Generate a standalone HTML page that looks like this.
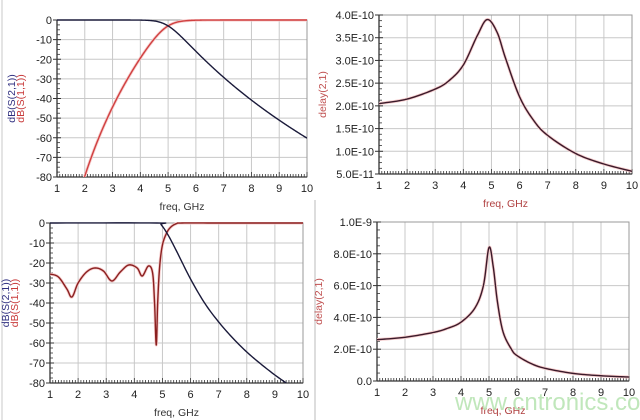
<!DOCTYPE html>
<html><head><meta charset="utf-8"><style>
html,body{margin:0;padding:0;background:#fff;}
svg{display:block;}
text{font-family:"Liberation Sans",Arial,sans-serif;}
</style></head><body>
<svg id="s" width="640" height="420" viewBox="0 0 640 420" xmlns="http://www.w3.org/2000/svg">
<rect width="640" height="420" fill="#fff"/>
<line x1="315" y1="200" x2="315" y2="420" stroke="#ddd" stroke-width="2"/>
<line x1="2" y1="0" x2="2" y2="420" stroke="#e4e4e4" stroke-width="2"/>
<g id="g"></g>
<text x="455" y="410" font-size="24" fill="#b6e3b0" opacity="0.85">www.cntronics.com</text>
</svg>
<script>
const NS="http://www.w3.org/2000/svg";
const G=document.getElementById('g');
function el(t,a,txt){const e=document.createElementNS(NS,t);for(const k in a)e.setAttribute(k,a[k]);if(txt!==undefined)e.textContent=txt;G.appendChild(e);return e;}
function cr(pts,n){
  const out=[];
  for(let i=0;i<pts.length-1;i++){
    const p0=pts[Math.max(0,i-1)],p1=pts[i],p2=pts[i+1],p3=pts[Math.min(pts.length-1,i+2)];
    for(let k=0;k<n;k++){const t=k/n,t2=t*t,t3=t2*t;
      const f=(a,b,c,d)=>0.5*((2*b)+(-a+c)*t+(2*a-5*b+4*c-d)*t2+(-a+3*b-3*c+d)*t3);
      out.push([f(p0[0],p1[0],p2[0],p3[0]),f(p0[1],p1[1],p2[1],p3[1])]);}
  }
  out.push(pts[pts.length-1]);return out;
}
let cid=0;
function plot(o){
  const {x0,x1,y0,y1,ymin,ymax,ylabels,yticks}=o;
  const X=v=>x0+(v-1)/9*(x1-x0), Y=v=>y1-(v-ymin)/(ymax-ymin)*(y1-y0);
  for(let i=1;i<=10;i++){el('line',{x1:X(i),y1:y0,x2:X(i),y2:y1,stroke:'#c8c8c8','stroke-width':1});}
  yticks.forEach(v=>el('line',{x1:x0,y1:Y(v),x2:x1,y2:Y(v),stroke:'#c8c8c8','stroke-width':1}));
  el('rect',{x:x0,y:y0,width:x1-x0,height:y1-y0,fill:'none',stroke:'#999','stroke-width':1});
  el('line',{x1:x0,y1:y1,x2:x1,y2:y1,stroke:'#333','stroke-width':1.3});
  el('line',{x1:x0,y1:y0,x2:x0,y2:y1,stroke:'#333','stroke-width':1.3});
  for(let i=0;i<=90;i++){const x=x0+i*(x1-x0)/90;el('line',{x1:x,y1:y1,x2:x,y2:y1-(i%10==0?5:3),stroke:'#333','stroke-width':0.8});}
  for(let i=0;i<yticks.length-1;i++){const a=Y(yticks[i]),b=Y(yticks[i+1]);for(let k=1;k<4;k++){const y=a+(b-a)*k/4;el('line',{x1:x0,y1:y,x2:x0+3,y2:y,stroke:'#333','stroke-width':0.8});}}
  yticks.forEach((v,i)=>{el('line',{x1:x0-4,y1:Y(v),x2:x0+4,y2:Y(v),stroke:'#333','stroke-width':1});
    el('text',{x:x0-5,y:Y(v)+4,'font-size':11,'text-anchor':'end',fill:'#222'},ylabels[i]);});
  for(let i=1;i<=10;i++)el('text',{x:X(i),y:y1+15,'font-size':11,'text-anchor':'middle',fill:'#222'},String(i));
  el('text',{x:(x0+x1)/2,y:y1+33,'font-size':10.5,'text-anchor':'middle',fill:o.xlc||'#333'},'freq, GHz');
  const id='c'+(cid++);
  const cp=el('clipPath',{id});const r=document.createElementNS(NS,'rect');
  r.setAttribute('x',x0);r.setAttribute('y',y0-1);r.setAttribute('width',x1-x0);r.setAttribute('height',y1-y0+1);cp.appendChild(r);
  o.series.forEach(s=>{
    const pts=s.pts.map(p=>X(p[0]).toFixed(2)+','+Y(p[1]).toFixed(2)).join(' ');
    if(s.halo)el('polyline',{points:pts,fill:'none',stroke:'#f6cccc','stroke-width':3,'clip-path':`url(#${id})`,'stroke-linejoin':'round'});
    el('polyline',{points:pts,fill:'none',stroke:s.c,'stroke-width':s.w||1.4,'clip-path':`url(#${id})`,'stroke-linejoin':'round'});
  });
  o.ylab.forEach(l=>el('text',{x:0,y:0,'font-size':10.5,fill:l.c,'text-anchor':'middle',transform:`translate(${l.x},${(y0+y1)/2}) rotate(-90)`},l.t));
}
function fn(f,a,b,n){const o=[];for(let i=0;i<=n;i++){const x=a+(b-a)*i/n;o.push([x,f(x)]);}return o;}
const dbt=[0,-10,-20,-30,-40,-50,-60,-70,-80], dbl=dbt.map(String);
plot({x0:57,x1:307,y0:20,y1:177,ymin:-80,ymax:0,yticks:dbt,ylabels:dbl,
 series:[
  {c:'#d04040',pts:fn(f=>-10*Math.log10(1+Math.pow(5/f,20)),1.5,10,400),halo:true},
  {c:'#1a1a3a',pts:fn(f=>-10*Math.log10(1+Math.pow(f/5,20)),1,10,400)}],
 ylab:[{x:15,t:'dB(S(2,1))',c:'#303080'},{x:24,t:'dB(S(1,1))',c:'#c83a3a'}]});
const trT=[0.5,1,1.5,2,2.5,3,3.5,4];
plot({x0:379,x1:632,y0:15,y1:174,ymin:0.5,ymax:4,yticks:trT,ylabels:['5.0E-11','1.0E-10','1.5E-10','2.0E-10','2.5E-10','3.0E-10','3.5E-10','4.0E-10'],
 xlc:'#b04040',
 series:[{c:'#3a1a2a',halo:true,pts:cr([[1,2.05],[2,2.15],[3,2.37],[3.5,2.56],[4,2.9],[4.5,3.55],[4.85,3.9],[5.2,3.62],[5.5,3.05],[6,2.2],[6.5,1.68],[7,1.35],[8,0.95],[9,0.72],[10,0.56]],12)}],
 ylab:[{x:326,t:'delay(2,1)',c:'#c05050'}]});
plot({x0:50,x1:303,y0:223,y1:383,ymin:-80,ymax:0,yticks:dbt,ylabels:dbl,
 series:[
  {c:'#8a2020',halo:true,pts:cr([[1,-25.5],[1.3,-27],[1.6,-33],[1.78,-37],[2.0,-30],[2.3,-24.5],[2.6,-22.5],[2.9,-24],[3.2,-29],[3.5,-24.5],[3.8,-21],[4.1,-22.5],[4.28,-26.5],[4.5,-21.5],[4.65,-25],[4.72,-40],[4.78,-61],[4.83,-40],[4.9,-22],[5.0,-11],[5.15,-5],[5.3,-2],[5.5,-0.3],[5.7,0],[7,0],[10,0]],10)},
  {c:'#1a1a3a',pts:cr([[1,0],[4.8,0],[4.95,-0.8],[5.2,-6],[5.5,-14],[6,-28],[6.5,-40],[7,-49.5],[7.5,-57.5],[8,-64.5],[8.5,-70.5],[9,-76],[9.4,-80],[9.6,-82]],10)}],
 ylab:[{x:9,t:'dB(S(2,1))',c:'#303080'},{x:18,t:'dB(S(1,1))',c:'#c83a3a'}]});
plot({x0:377,x1:629,y0:222,y1:381,ymin:0,ymax:10,yticks:[0,2,4,6,8,10],ylabels:['0.0','2.0E-10','4.0E-10','6.0E-10','8.0E-10','1.0E-9'],
 xlc:'#b04040',
 series:[{c:'#3a1a2a',halo:true,pts:cr([[1,2.6],[2,2.75],[3,3.05],[3.5,3.3],[4,3.7],[4.5,4.6],[4.8,6.0],[5.0,8.4],[5.15,7.2],[5.3,5.0],[5.5,3.1],[5.8,2.0],[6,1.6],[6.5,1.1],[7,0.8],[8,0.48],[9,0.33],[10,0.25]],12)}],
 ylab:[{x:322,t:'delay(2,1)',c:'#c05050'}]});
</script>
</body></html>
